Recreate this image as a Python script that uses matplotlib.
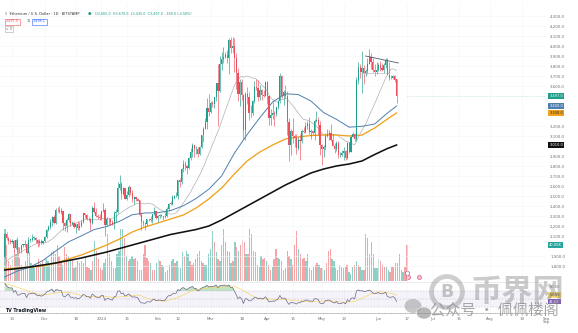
import numpy as np
import pandas as pd
import matplotlib
matplotlib.use("Agg")
import matplotlib.pyplot as plt
from matplotlib.transforms import blended_transform_factory
from matplotlib.patches import Ellipse
from matplotlib.lines import Line2D

plt.rcParams['font.family'] = ['DejaVu Sans']

# ---------------- data: ETH/USD daily, 2023-11-09 .. 2024-06-11 ----------------
dates = pd.date_range("2023-11-09", "2024-06-11", freq="D")

closes = [
    2120, 2078, 2052, 2044, 2054, 1978, 2060, 1960, 1962, 2011, 2012, 2022, 1930, 2062, 2063, 2081, 2084, 2064, 2028, 2049, 2028, 2052,
    2088, 2165, 2194, 2242, 2293, 2233, 2359, 2356, 2341, 2352, 2226, 2203, 2260, 2316, 2220, 2228, 2195, 2217, 2177, 2200, 2240, 2326, 2310, 2268, 2275, 2230, 2380, 2345, 2300, 2290, 2282,
    2352, 2356, 2210, 2268, 2268, 2240, 2222, 2330, 2345, 2584, 2616, 2525, 2576, 2472, 2511, 2587, 2529, 2468, 2490, 2470, 2455, 2312, 2242, 2234, 2218, 2267, 2266, 2257, 2316, 2345, 2284,
    2304, 2310, 2296, 2291, 2300, 2375, 2425, 2422, 2485, 2500, 2505, 2660, 2640, 2775, 2825, 2800, 2785, 2880, 2945, 3015, 2970, 2975, 2920, 2990, 3110, 3175, 3240, 3385, 3340,
    3430, 3420, 3490, 3630, 3555, 3820, 3870, 3890, 3910, 3880, 4065, 3980, 4005, 3880, 3730, 3520, 3645, 3515, 3160, 3520, 3490, 3330, 3335, 3450, 3590, 3585, 3490, 3560, 3510, 3505, 3645,
    3505, 3280, 3310, 3330, 3320, 3390, 3455, 3700, 3505, 3545, 3505, 3240, 3010, 3155, 3100, 3085, 2985, 3065, 3055, 3150, 3145, 3200, 3220, 3140, 3155, 3130, 3255, 3260, 3215, 3010,
    2970, 2990, 3105, 3115, 3135, 3065, 3005, 2975, 3035, 2910, 2910, 2930, 2950, 2880, 3035, 2945, 3090, 3120, 3070, 3665, 3790, 3740, 3780, 3730, 3750, 3825, 3890, 3845, 3765, 3745, 3760,
    3815, 3780, 3765, 3810, 3865, 3710, 3680, 3680, 3705, 3665, 3497,
]
highs = [
    2134, 2138, 2090, 2070, 2075, 2060, 2068, 2090, 1995, 2015, 2025, 2065, 2035, 2090, 2075, 2125, 2096, 2090, 2070, 2070, 2075, 2055,
    2105, 2170, 2210, 2275, 2305, 2310, 2380, 2390, 2400, 2380, 2355, 2245, 2280, 2335, 2325, 2250, 2250, 2220, 2255, 2240, 2260, 2330, 2335, 2320, 2295, 2285, 2400, 2445, 2385, 2320, 2320,
    2355, 2430, 2385, 2295, 2280, 2270, 2260, 2355, 2370, 2645, 2715, 2645, 2590, 2580, 2550, 2610, 2595, 2560, 2505, 2480, 2480, 2465, 2345, 2265, 2240, 2275, 2285, 2300, 2320, 2390, 2350,
    2310, 2325, 2320, 2300, 2335, 2390, 2435, 2450, 2515, 2515, 2540, 2665, 2685, 2785, 2865, 2850, 2815, 2890, 2985, 3030, 3015, 3000, 2990, 3000, 3115, 3190, 3285, 3485, 3520,
    3450, 3455, 3495, 3630, 3825, 3900, 3940, 3995, 3945, 3960, 4085, 4095, 4090, 4085, 3935, 3780, 3675, 3675, 3525, 3545, 3590, 3545, 3415, 3460, 3650, 3675, 3665, 3610, 3575, 3565, 3655,
    3650, 3505, 3370, 3440, 3350, 3395, 3465, 3730, 3715, 3565, 3615, 3550, 3280, 3175, 3280, 3125, 3125, 3095, 3125, 3175, 3195, 3240, 3255, 3290, 3175, 3160, 3275, 3355, 3290, 3250,
    3025, 3015, 3125, 3170, 3165, 3220, 3125, 3030, 3055, 3055, 2945, 2960, 2990, 2960, 3045, 3040, 3110, 3145, 3130, 3690, 3840, 3820, 3950, 3810, 3775, 3880, 3975, 3930, 3880, 3825, 3845,
    3835, 3850, 3830, 3830, 3885, 3880, 3840, 3715, 3715, 3715, 3670,
]
lows = [
    1878, 2060, 2020, 2025, 2030, 1945, 1970, 1943, 1930, 1935, 1990, 1995, 1930, 1930, 2045, 2055, 2065, 2035, 1990, 2000, 2020, 2020,
    2045, 2085, 2150, 2175, 2205, 2220, 2225, 2340, 2330, 2320, 2160, 2150, 2145, 2245, 2200, 2210, 2180, 2130, 2160, 2160, 2190, 2230, 2280, 2260, 2250, 2165, 2220, 2330, 2290, 2270, 2265,
    2265, 2345, 2100, 2205, 2210, 2215, 2210, 2170, 2240, 2335, 2560, 2475, 2510, 2470, 2465, 2495, 2510, 2440, 2420, 2455, 2450, 2300, 2165, 2200, 2165, 2205, 2250, 2240, 2230, 2315, 2270,
    2240, 2280, 2290, 2265, 2280, 2295, 2350, 2410, 2415, 2470, 2490, 2475, 2590, 2625, 2745, 2760, 2720, 2770, 2860, 2890, 2890, 2925, 2890, 2915, 2985, 3040, 3170, 3170, 3300,
    3335, 3395, 3385, 3450, 3200, 3545, 3760, 3835, 3880, 3830, 3725, 3930, 3935, 3740, 3575, 3450, 3405, 3460, 3070, 3060, 3420, 3265, 3290, 3310, 3430, 3560, 3450, 3465, 3460, 3490, 3500,
    3425, 3215, 3215, 3270, 3205, 3300, 3370, 3435, 3485, 3410, 3480, 3110, 2850, 2910, 3030, 2990, 2925, 2960, 2865, 3030, 3130, 3135, 3170, 3120, 3070, 3110, 3065, 3240, 3115, 2915,
    2810, 2890, 2960, 3090, 3065, 3050, 3000, 2935, 2950, 2880, 2895, 2905, 2865, 2860, 2870, 2930, 2940, 3090, 3050, 3050, 3620, 3685, 3530, 3625, 3700, 3725, 3820, 3770, 3740, 3700, 3720,
    3750, 3755, 3755, 3730, 3780, 3755, 3660, 3670, 3675, 3640, 3435,
]
first_open = 1886
# daily volume, thousand ETH
volumes = [
    62, 40, 22, 18, 25, 35, 30, 38, 26, 18, 15, 22, 35, 32, 20, 16, 14, 18, 24, 20, 22, 18,
    24, 22, 20, 32, 34, 30, 40, 28, 22, 18, 38, 30, 28, 26, 24, 14, 16, 22, 20, 22, 20, 26, 16, 14, 12, 22, 45, 34, 24, 14, 12,
    20, 24, 52, 30, 22, 14, 14, 30, 34, 58, 62, 48, 28, 22, 24, 28, 24, 26, 22, 12, 12, 30, 40, 26, 22, 20, 12, 12, 20, 24, 22,
    18, 16, 10, 12, 18, 22, 24, 20, 22, 16, 14, 32, 28, 34, 30, 22, 18, 20, 24, 30, 34, 22, 20, 18, 18, 30, 36, 56, 44,
    32, 24, 22, 40, 58, 44, 34, 32, 20, 22, 44, 38, 34, 40, 46, 44, 30, 30, 62, 52, 34, 32, 18, 16, 28, 24, 26, 22, 18, 12, 16,
    24, 36, 26, 24, 22, 12, 14, 34, 28, 24, 18, 40, 56, 36, 30, 24, 26, 22, 30, 14, 12, 16, 18, 20, 18, 14, 14, 12, 20, 34,
    36, 24, 22, 14, 12, 18, 16, 14, 16, 18, 10, 8, 16, 18, 22, 18, 16, 12, 12, 52, 48, 30, 44, 30, 14, 14, 24, 22, 18, 16, 16,
    12, 10, 16, 16, 20, 20, 30, 12, 10, 16, 40,
]
# closes of the 20 sessions before the first bar (indicator warm-up)
closes_before = [1605, 1630, 1665, 1790, 1785, 1790, 1800, 1780, 1775, 1795,
                 1810, 1815, 1845, 1795, 1830, 1855, 1895, 1900, 1885, 1886]

# moving averages sampled weekly (plus the last session)
ma_dates = list(pd.date_range("2023-11-09", "2024-06-06", freq="7D")) + [pd.Timestamp("2024-06-11")]
ma50 = [1690, 1750, 1790, 1856, 1950, 2041, 2101, 2164, 2195, 2247, 2313, 2330, 2333, 2354, 2402, 2475,
        2568, 2700, 2928, 3114, 3284, 3440, 3522, 3515, 3450, 3334, 3267, 3188, 3197, 3220, 3330, 3400]
ma100 = [1770, 1780, 1790, 1800, 1830, 1870, 1910, 1960, 2010, 2070, 2140, 2190, 2230, 2270, 2310, 2380,
         2470, 2580, 2720, 2850, 2940, 3010, 3070, 3090, 3105, 3110, 3110, 3100, 3110, 3180, 3270, 3330]
ma200 = [1760, 1775, 1790, 1810, 1830, 1855, 1880, 1910, 1940, 1975, 2010, 2045, 2080, 2115, 2140, 2165,
         2200, 2260, 2330, 2400, 2470, 2540, 2610, 2670, 2730, 2770, 2800, 2820, 2850, 2915, 2975, 3010]

# date axis labels
tick_dates = ["2023-11-13", "2023-12-01", "2023-12-18", "2024-01-01", "2024-01-15", "2024-02-01",
              "2024-02-12", "2024-03-01", "2024-03-18", "2024-04-01", "2024-04-15", "2024-05-01",
              "2024-05-13", "2024-06-01", "2024-06-17", "2024-07-01", "2024-07-15", "2024-08-01",
              "2024-08-19", "2024-09-01"]
tick_labels = ["13", "Dec", "18", "2024", "15", "Feb", "12", "Mar", "18", "Apr", "15", "May",
               "13", "Jun", "17", "Jul", "15", "Aug", "19", "Sep"]

# hand-drawn trend lines on the June range
trend_upper = (["2024-05-25", "2024-06-12"], [3900, 3830])
trend_lower = (["2024-05-22", "2024-06-06"], [3730, 3730])

# ---------------- derived series ----------------
origin = pd.Timestamp("2024-01-01")
def dnum(d):
    return (pd.to_datetime(d) - origin) / pd.Timedelta(days=1)

x = np.array([dnum(d) for d in dates])
c = np.array(closes, float)
h = np.array(highs, float)
l = np.array(lows, float)
o = np.concatenate([[first_open], c[:-1]])
v = np.array(volumes, float)
up = c >= o

all_close = pd.Series(list(closes_before) + list(closes), dtype=float)
sma20 = all_close.rolling(20).mean().values[len(closes_before):]
delta = all_close.diff()
gain = delta.clip(lower=0).ewm(alpha=1 / 14, adjust=False).mean()
loss = (-delta.clip(upper=0)).ewm(alpha=1 / 14, adjust=False).mean()
rsi_all = 100 - 100 / (1 + gain / loss)
rsi = rsi_all.values[len(closes_before):]
rsi_ma = pd.Series(rsi_all.values).rolling(14, min_periods=1).mean().values[len(closes_before):]
mx = np.array([dnum(d) for d in ma_dates])

# ---------------- figure ----------------
W, H = 578, 333
fig = plt.figure(figsize=(W / 100, H / 100), dpi=100)
fig.patch.set_facecolor("white")

def rect(x0, y0, x1, y1):
    return [x0 / W, 1 - y1 / H, (x1 - x0) / W, (y1 - y0) / H]

UP, DOWN = "#1f9e89", "#ef4f5d"
XL = (-55.6, 236.4)

vax = fig.add_axes(rect(0, 229, 546, 281))
ax = fig.add_axes(rect(0, 3, 546, 281))
rax = fig.add_axes(rect(0, 283, 546, 313))
for a in (vax, ax, rax):
    a.set_xlim(*XL)
    for s in a.spines.values():
        s.set_visible(False)
ax.patch.set_alpha(0)
vax.patch.set_alpha(0)
ax.set_ylim(1650, 4430)
vax.set_ylim(0, 58)
rax.set_ylim(15, 90)

def pix_y(axis, val):
    return axis.transData.transform((0, val))[1]

# price-scale tags (value, colour, text colour) per pane
price_tags = [(c[-1], UP, "white"), (ma50[-1], "#4f7fae", "white"),
              (ma100[-1], "#f0a21c", "#222222"), (ma200[-1], "#111111", "white")]
vol_tags = [(v[-1], "#26a69a", "white")]
rsi_tags = [(rsi_ma[-1], "#f5d66b", "#222222"), (rsi[-1], "#7e57c2", "white")]
tag_pix = ([pix_y(ax, t[0]) for t in price_tags] + [pix_y(vax, t[0]) for t in vol_tags]
           + [pix_y(rax, t[0]) for t in rsi_tags])

def free(axis, val):
    return all(abs(pix_y(axis, val) - tp) > 6.5 for tp in tag_pix)

# price pane
yt = [p for p in range(1800, 4301, 100) if free(ax, p)]
ax.set_yticks(yt)
ax.set_yticklabels([f"{p:,.1f}" for p in yt])
ax.yaxis.tick_right()
ax.tick_params(axis="y", length=0, pad=3, labelsize=2.8, labelcolor="#707070")
ax.set_xticks([dnum(d) for d in tick_dates])
ax.tick_params(axis="x", length=0, labelbottom=False)
ax.grid(True, color="#f4f5f8", lw=0.4)
ax.set_axisbelow(True)

cols = np.where(up, UP, DOWN)
ax.vlines(x, l, h, colors=cols, lw=0.45, zorder=3)
body_lo = np.minimum(o, c)
body_h = np.maximum(np.abs(c - o), 4)
ax.bar(x, body_h, bottom=body_lo, width=0.62, color=cols, lw=0, zorder=4)

ax.plot(x, sma20, color="#a9a9a9", lw=0.45, zorder=2)
ax.plot(mx, ma50, color="#4f7fae", lw=0.7, zorder=2)
ax.plot(mx, ma100, color="#f0a21c", lw=0.95, zorder=2)
ax.plot(mx, ma200, color="#111111", lw=1.15, zorder=2)

ax.plot([dnum(d) for d in trend_upper[0]], trend_upper[1], color="#555a66", lw=0.6, zorder=5)
ax.plot([dnum(d) for d in trend_lower[0]], trend_lower[1], color="#b8bcc8", lw=0.5, zorder=5)

# last price line
ax.axhline(c[-1], xmin=(x[-1] - XL[0]) / (XL[1] - XL[0]), color=UP, lw=0.4, ls=(0, (1, 2)), alpha=0.6)

# volume overlay
vax.bar(x, v, width=0.7, color=np.where(up, "#8fd0c6", "#f4a3a6"), lw=0, zorder=1)
vax.set_xticks([])
vax.set_yticks([])

# event markers under the last bars
ev_x = [x[-1] + 0.5, x[-1] + 6.5]
vax.scatter([x[-1]], [8.5], s=9, facecolor="white", edgecolor="#8a6d8f", lw=0.5, zorder=6)
vax.scatter(ev_x, [4.5, 4.5], s=8, facecolor="#f7c6cf", edgecolor="#d9577a", lw=0.5, zorder=6)

# RSI pane
rax.axhspan(30, 70, color="#7e57c2", alpha=0.07, lw=0)
for lv in (70, 50, 30):
    rax.axhline(lv, color="#b5b0c8", lw=0.35, ls=(0, (3, 3)))
rax.fill_between(x, rsi, 70, where=rsi > 70, interpolate=True, color="#4caf50", alpha=0.35, lw=0)
rax.fill_between(x, rsi, 30, where=rsi < 30, interpolate=True, color="#f44336", alpha=0.3, lw=0)
rax.plot(x, rsi_ma, color="#f5d66b", lw=0.5)
rax.plot(x, rsi, color="#6a6585", lw=0.5)
rt = [lv for lv in (80, 70) if free(rax, lv)]
rax.set_yticks(rt)
rax.set_yticklabels([f"{lv:.2f}" for lv in rt])
rax.yaxis.tick_right()
rax.tick_params(axis="y", length=0, pad=3, labelsize=2.6, labelcolor="#707070")
rax.set_xticks([dnum(d) for d in tick_dates])
rax.set_xticklabels(tick_labels)
rax.tick_params(axis="x", length=0, pad=3, labelsize=2.8, labelcolor="#707070")
rax.grid(True, axis="x", color="#f4f5f8", lw=0.4)
rax.set_axisbelow(True)
rax.spines["bottom"].set_visible(True)
rax.spines["bottom"].set_linestyle((0, (1, 1.5)))
rax.spines["bottom"].set_color("#9a9a9a")
rax.spines["bottom"].set_linewidth(0.5)
# the last tick falls under the price scale
rax.text(dnum(tick_dates[-1]), -0.22, tick_labels[-1], transform=blended_transform_factory(rax.transData, rax.transAxes),
         fontsize=2.8, color="#707070", ha="center", va="top", clip_on=False)

# pane separator
fig.add_artist(Line2D([0, 546 / W], [1 - 282 / H] * 2, color="#e3e5ea", lw=0.5))

def tag(axis, y, text, fc, tc="white"):
    t = blended_transform_factory(axis.transAxes, axis.transData)
    axis.text(1.006, y, text, transform=t, fontsize=2.6, color=tc, va="center", ha="left",
              bbox=dict(boxstyle="square,pad=0.25", fc=fc, ec="none"), clip_on=False, zorder=10)

for val, fc, tc in price_tags:
    tag(ax, val, f"{val:,.1f}", fc, tc)
for val, fc, tc in vol_tags:
    tag(vax, val, f"{val:.2f}K", fc, tc)
for val, fc, tc in rsi_tags:
    tag(rax, val, f"{val:.2f}", fc, tc)

# header legend
chg = c[-1] - o[-1]
fig.text(5 / W, 1 - 14 / H, "Ξ  Ethereum / U.S. Dollar · 1D · BITSTAMP", fontsize=2.6, color="#333333", va="center")
fig.text(88 / W, 1 - 14 / H, "●", fontsize=3, color=UP, va="center")
fig.text(95 / W, 1 - 14 / H,
         f"O{o[-1]:,.1f}  H{h[-1]:,.1f}  L{l[-1]:,.1f}  C{c[-1]:,.1f}  {chg:+,.1f} ({chg / o[-1] * 100:+.2f}%)",
         fontsize=2.4, color=UP, va="center")
fig.text(6 / W, 1 - 21.5 / H, f"{c[-1]:,.1f}", fontsize=2.4, color=DOWN, va="center",
         bbox=dict(boxstyle="square,pad=0.3", fc="white", ec=DOWN, lw=0.4))
fig.text(27 / W, 1 - 21.5 / H, "11", fontsize=2.4, color="#555555", va="center")
fig.text(33 / W, 1 - 21.5 / H, f"{c[-1] + 1.1:,.1f}", fontsize=2.4, color="#2962ff", va="center",
         bbox=dict(boxstyle="square,pad=0.3", fc="white", ec="#2962ff", lw=0.4))
fig.text(6 / W, 1 - 28.5 / H, "∨ 3", fontsize=2.4, color="#555555", va="center",
         bbox=dict(boxstyle="square,pad=0.3", fc="white", ec="#aaaaaa", lw=0.4))

# TradingView mark
fig.text(5 / W, 1 - 310.5 / H, "TV TradingView", fontsize=3.4, color="#131722", fontweight="bold", va="center")

# watermark
wm = "#8c8c8c"
fig.add_artist(Ellipse((447 / W, 1 - 292 / H), 31 / W, 31 / H, fill=False, ec=wm, lw=3.4, alpha=0.42, zorder=20))
fig.text(447 / W, 1 - 292 / H, "B", fontsize=12.5, color=wm, alpha=0.5, fontweight="bold",
         ha="center", va="center", zorder=20)
fig.text(471 / W, 1 - 292 / H, "币界网", fontsize=22.5, color=wm, alpha=0.45, fontweight="bold",
         family=["Noto Sans CJK SC", "DejaVu Sans"], ha="left", va="center", zorder=20)
fig.add_artist(Ellipse((413 / W, 1 - 306 / H), 17 / W, 14 / H, fc="#9a9a9a", ec="none", alpha=0.55, zorder=20))
fig.add_artist(Ellipse((424 / W, 1 - 313 / H), 15 / W, 12 / H, fc="#8a8a8a", ec="white", lw=0.6, alpha=0.6, zorder=20))
fig.text(430 / W, 1 - 310 / H, "公众号 · 佩佩楼阁", fontsize=11, color="#8a8a8a", alpha=0.75,
         family=["Noto Sans CJK SC", "DejaVu Sans"], ha="left", va="center", zorder=20)

fig.savefig("out.png", dpi=100, facecolor="white")
